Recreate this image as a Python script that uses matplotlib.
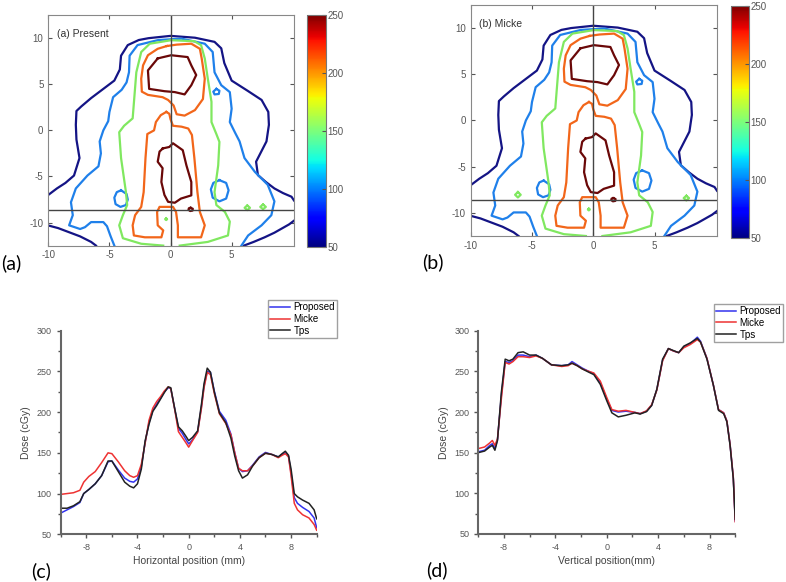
# dose maps (present vs micke) and dose profiles vs TPS

import matplotlib
matplotlib.use("Agg")
import matplotlib.pyplot as plt
from matplotlib import colors
from matplotlib.ticker import MultipleLocator

plt.rcParams["font.family"] = ["Liberation Sans", "DejaVu Sans"]
plt.rcParams["axes.unicode_minus"] = False

# ---- isodose lines (mm), level in cGy ----
navy_main = [(-10.05, -7.05), (-9.3, -6.3), (-8.6, -5.7), (-7.9, -4.9), (-7.45, -3.0),
             (-7.7, -1.0), (-7.75, 0.6), (-7.7, 2.1), (-7.3, 2.6), (-6.5, 3.5), (-5.6, 4.4),
             (-4.6, 5.4), (-4.15, 6.6), (-4.05, 8.1), (-3.5, 9.25), (-2.6, 9.8),
             (-1.8, 10.0), (0.0, 10.25), (2.0, 10.05), (3.6, 9.6), (4.15, 8.9), (4.4, 7.3),
             (5.0, 5.4), (6.3, 4.3), (7.45, 3.3), (8.0, 2.0), (8.05, 0.6),
             (7.85, -1.2), (7.0, -3.4), (7.15, -4.85), (7.8, -5.6), (8.5, -6.3), (9.2, -6.8),
             (9.9, -7.2), (10.1, -7.6)]
navy_bl = [(-10.05, -10.3), (-9.2, -10.6), (-8.4, -11.0), (-7.4, -11.5), (-6.5, -12.1), (-6.1, -12.5)]
navy_br = [(6.0, -12.5), (6.8, -12.1), (7.7, -11.6), (8.5, -11.1), (9.1, -10.65), (9.7, -10.2), (10.1, -9.8)]

blue_main = [(-4.6, -12.5), (-4.9, -11.5), (-5.2, -10.4), (-5.5, -9.95), (-6.5, -9.95), (-7.0, -10.5),
             (-7.4, -10.7), (-8.3, -10.3), (-8.0, -9.2), (-8.15, -7.8), (-7.75, -6.3), (-6.8, -4.9),
             (-5.9, -3.9), (-5.7, -2.5), (-5.8, -1.2), (-5.5, 0.0), (-5.1, 1.0), (-5.0, 2.0),
             (-4.7, 3.6), (-4.0, 4.4), (-3.6, 5.2), (-3.4, 6.3), (-3.35, 8.1), (-2.7, 9.25), (-1.0, 9.8),
             (0.9, 9.95), (2.8, 9.4), (3.45, 8.5), (3.6, 6.3), (4.15, 4.9), (4.85, 4.15),
             (5.0, 2.35), (4.85, 0.9), (5.3, -0.3), (5.65, -1.2), (6.05, -3.0), (6.9, -4.5),
             (7.95, -5.9), (8.5, -7.7), (8.25, -9.2), (7.45, -10.3), (6.35, -11.4), (5.8, -12.5)]
blue_isl_l = [(-4.05, -6.5), (-3.6, -6.9), (-3.5, -7.5), (-3.65, -8.1), (-4.1, -8.3), (-4.5, -8.0),
              (-4.6, -7.3), (-4.4, -6.7), (-4.05, -6.5)]
blue_isl_r = [(4.0, -5.4), (4.55, -5.7), (4.75, -6.5), (4.55, -7.4), (4.0, -7.7), (3.45, -7.3),
              (3.3, -6.4), (3.5, -5.7), (4.0, -5.4)]
blue_isl_top = [(3.75, 4.5), (4.0, 4.3), (3.95, 3.95), (3.6, 3.9), (3.5, 4.2), (3.75, 4.5)]

green_main = [(-0.6, -12.5), (-2.4, -12.3), (-3.9, -11.7), (-4.2, -10.3), (-3.9, -9.2), (-3.55, -8.1),
              (-3.65, -6.7), (-4.05, -3.0), (-4.2, -0.2), (-3.8, 0.5), (-3.1, 1.3), (-2.95, 3.8),
              (-2.8, 6.3), (-2.4, 8.5), (-1.7, 9.4), (0.05, 9.78), (1.95, 9.67), (2.5, 9.24),
              (2.8, 7.8), (3.05, 5.6), (3.35, 3.1), (3.35, 0.9), (3.75, -0.4), (4.0, -1.25),
              (3.9, -3.8), (3.6, -6.7), (3.75, -8.1), (4.45, -8.85), (4.85, -9.9), (4.7, -11.4),
              (3.05, -12.1), (0.75, -12.5)]
green_dot = [(-0.36, -9.55), (-0.28, -9.64), (-0.36, -9.73), (-0.44, -9.64), (-0.36, -9.55)]
green_ring_a1 = [(6.28, -8.15), (6.5, -8.4), (6.28, -8.65), (6.06, -8.4), (6.28, -8.15)]
green_ring_a2 = [(7.57, -8.05), (7.8, -8.3), (7.57, -8.55), (7.34, -8.3), (7.57, -8.05)]
green_ring_b1 = [(-6.15, -7.75), (-5.92, -8.04), (-6.15, -8.33), (-6.38, -8.04), (-6.15, -7.75)]
green_ring_b2 = [(7.6, -8.15), (7.82, -8.4), (7.6, -8.65), (7.38, -8.4), (7.6, -8.15)]

orange_top = [(-0.3, 9.15), (0.5, 9.3), (1.7, 9.4), (2.4, 8.85), (2.55, 7.8), (2.8, 5.6), (2.65, 3.4),
              (2.0, 2.2), (1.15, 1.6), (0.5, 1.75), (0.25, 2.7), (-0.2, 3.3), (-0.65, 3.6),
              (-1.85, 3.85), (-2.35, 4.2), (-2.4, 5.6), (-2.25, 7.05), (-1.85, 8.15), (-1.05, 8.85),
              (-0.3, 9.15)]
orange_low = [(-0.35, 2.0), (-0.8, 1.65), (-1.2, 0.9), (-1.35, 0.0), (-1.9, -0.4), (-2.05, -3.0),
              (-2.2, -6.7), (-2.4, -8.3), (-2.9, -9.2), (-3.1, -10.3), (-3.0, -11.4), (-2.1, -11.6),
              (-0.75, -11.6), (-0.6, -10.85), (-1.05, -10.3), (-1.1, -8.85), (-0.9, -8.3), (0.2, -8.3),
              (0.45, -8.85), (0.6, -10.3), (0.6, -11.6), (2.5, -11.6), (2.8, -10.3), (2.4, -8.85),
              (2.2, -6.7), (1.95, -3.0), (1.75, -0.5), (1.45, 0.2), (0.9, 0.4), (0.2, 0.5),
              (0.0, 1.2), (-0.1, 1.8), (-0.35, 2.0)]

maroon_top = [(-1.05, 7.8), (-1.85, 6.5), (-1.75, 4.5), (-0.5, 4.25), (0.35, 4.15), (1.15, 3.9),
              (1.7, 4.9), (2.1, 6.0), (1.7, 7.05), (1.4, 7.95), (0.05, 8.15), (-0.75, 7.9), (-1.05, 7.8)]
maroon_low = [(-0.63, -1.96), (-0.9, -2.3), (-1.05, -3.4), (-0.65, -4.1), (-0.75, -5.6), (-0.5, -7.0),
              (-0.2, -7.75), (0.35, -7.85), (0.85, -7.4), (1.7, -7.05), (1.7, -5.6), (1.3, -3.8),
              (1.0, -2.15), (0.2, -1.4), (-0.1, -1.8), (-0.63, -1.96)]
maroon_dot = [(1.64, -8.4), (1.82, -8.5), (1.8, -8.7), (1.6, -8.75), (1.47, -8.6), (1.5, -8.45), (1.64, -8.4)]

cross_y = -8.6

# line colour of each isodose level as drawn in the figure
level_colors = {50: "#141485", 100: "#1f80ea", 150: "#80e860", 200: "#f2661a", 250: "#6a0808"}

lines_a = [(navy_main, 50), (navy_bl, 50), (navy_br, 50),
           (blue_main, 100), (blue_isl_l, 100), (blue_isl_r, 100), (blue_isl_top, 100),
           (green_main, 150), (green_dot, 150), (green_ring_a1, 150), (green_ring_a2, 150),
           (orange_top, 200), (orange_low, 200),
           (maroon_top, 250), (maroon_low, 250), (maroon_dot, 250)]
lines_b = [(navy_main, 50), (navy_bl, 50), (navy_br, 50),
           (blue_main, 100), (blue_isl_l, 100), (blue_isl_r, 100), (blue_isl_top, 100),
           (green_main, 150), (green_dot, 150), (green_ring_b1, 150), (green_ring_b2, 150),
           (orange_top, 200), (orange_low, 200),
           (maroon_top, 250), (maroon_low, 250), (maroon_dot, 250)]

# ---- horizontal profile (c) ----
xc = [-10, -9.5, -9, -8.5, -8.2, -7.8, -7.3, -6.8, -6.3, -6.0, -5.5, -5.0, -4.6, -4.3, -4.0, -3.7,
      -3.4, -3.1, -2.8, -2.5, -2.2, -1.9, -1.6, -1.4, -1.1, -0.8, -0.5, -0.2, 0, 0.3, 0.7, 1.0,
      1.2, 1.45, 1.7, 2.0, 2.4, 2.9, 3.3, 3.6, 3.9, 4.2, 4.6, 5.0, 5.5, 6.0, 6.5, 7.0, 7.3, 7.55,
      7.8, 8.0, 8.25, 8.5, 8.9, 9.4, 9.8, 10.0]
c_proposed = [76, 80, 84, 89, 100, 105, 112, 122, 139, 140, 129, 119, 115, 114, 118, 133,
              163, 187, 202, 210, 217, 225, 230, 229, 205, 180, 174, 166, 161, 166, 176, 207,
              232, 250, 249, 226, 201, 190, 173, 150, 131, 127, 128, 135, 145, 150.5, 148, 145, 148, 150,
              146, 125, 95, 88, 83, 78, 70, 58]
c_micke = [99, 100, 101, 104, 114, 121, 127, 138, 150, 149, 139, 128, 122, 120, 122, 136,
           162, 190, 205, 213, 219, 226, 231, 229, 204, 176, 169, 162, 157, 165, 175, 205,
           230, 249, 246, 223, 198, 186, 172, 150, 131, 128, 128, 134, 144, 149.5, 148, 144, 147, 149,
           145, 122, 88, 80, 74, 70, 62, 55]
c_tps = [82, 82, 85, 90, 100, 105, 112, 122, 140, 140, 127, 114, 109, 107, 112, 130,
         165, 185, 201, 208, 216, 224, 231, 230, 205, 182, 177, 170, 165, 169, 177, 210,
         235, 254, 249, 225, 199, 187, 168, 146, 128, 119, 123, 134, 144, 149.5, 148, 145, 149, 152,
         147, 130, 100, 96, 92, 88, 80, 69]

# ---- vertical profile (d) ----
xd = [-10, -9.5, -9.1, -8.9, -8.7, -8.5, -8.2, -7.9, -7.6, -7.3, -6.9, -6.5, -6.0, -5.5, -5.0, -4.3,
      -3.5, -3.0, -2.7, -2.3, -1.9, -1.4, -1.0, -0.5, 0, 0.4, 0.9, 1.5, 2.2, 2.6, 3.1, 3.5, 3.9,
      4.35, 4.8, 5.2, 5.6, 6.0, 6.5, 7.05, 7.3, 7.8, 8.3, 8.7, 9.1, 9.35, 9.6, 9.85, 10.0]
d_proposed = [151, 153, 159, 161, 155, 166, 220, 262, 261, 263, 270, 270, 268, 270, 266, 258,
              257, 258, 262, 258, 254, 250, 247, 236, 216, 202, 200, 201, 199.5, 198, 201, 208.5, 227.5,
              264, 278, 275, 273, 280, 284, 292, 287, 266, 233, 203, 199, 189, 160, 119, 66]
d_micke = [155, 157, 162, 165, 159, 167, 216, 261, 259, 262, 268, 268, 267, 269, 266, 258,
           256, 257, 260, 257, 253, 250, 248, 238, 218, 203, 201, 202, 199.5, 198, 201.5, 209, 227,
           263, 278, 275, 273, 279, 283, 289, 286, 266, 233, 203, 199, 189, 160, 120, 65]
d_tps = [150, 152, 157, 159, 153, 165, 224, 265, 263, 265, 273, 274, 270, 270, 266, 258,
         257, 258, 260, 257, 253, 249, 246, 234, 214, 199, 194, 196, 199, 197.5, 200.5, 208, 228,
         265, 278, 275.5, 273, 281, 285, 290.5, 286, 265, 233, 202, 198, 188, 159, 118, 68]

series_names = ["Proposed", "Micke", "Tps"]
series_colors = ["#3333ee", "#ee3333", "#222222"]

cmap = plt.get_cmap("jet")
norm = colors.Normalize(50, 250)

fig = plt.figure(figsize=(7.86, 5.82), dpi=100)


def draw_map(rect, cbar_rect, lines, title):
    ax = fig.add_axes(rect)
    for pts, level in lines:
        xs = [p[0] for p in pts]
        ys = [p[1] for p in pts]
        ax.plot(xs, ys, color=level_colors[level], lw=1.6, solid_joinstyle="round")
    ax.axvline(0, color="#444444", lw=1.0)
    ax.axhline(cross_y, color="#444444", lw=1.0)
    ax.set_xlim(-10, 10.1)
    ax.set_ylim(-12.5, 12.5)
    ax.set_xticks([-10, -5, 0, 5])
    ax.set_yticks([-10, -5, 0, 5, 10])
    ax.tick_params(direction="in", length=3, labelsize=7, colors="#555555",
                   top=True, right=True)
    for s in ax.spines.values():
        s.set_color("#888888")
    ax.text(-9.3, 10.4, title, fontsize=7.5, color="#333333", va="center")

    cax = fig.add_axes(cbar_rect)
    cb = matplotlib.colorbar.ColorbarBase(cax, cmap=cmap, norm=norm, ticks=[50, 100, 150, 200, 250])
    cb.outline.set_edgecolor("#777777")
    cax.tick_params(direction="in", length=3, labelsize=7, colors="#555555", pad=1)
    return ax


def draw_profile(rect, x, vals, xlabel, legend_anchor):
    ax = fig.add_axes(rect)
    for v, name, c in zip(vals, series_names, series_colors):
        ax.plot(x, v, color=c, lw=1.1, label=name)
    ax.set_xlim(-10, 10)
    ax.set_ylim(50, 300)
    ax.set_xticks([-8, -4, 0, 4, 8])
    ax.set_yticks([50, 100, 150, 200, 250, 300])
    ax.xaxis.set_minor_locator(MultipleLocator(2))
    ax.yaxis.set_minor_locator(MultipleLocator(25))
    for side in ["top", "right"]:
        ax.spines[side].set_visible(False)
    for side in ["left", "bottom"]:
        ax.spines[side].set_color("#666666")
        ax.spines[side].set_linewidth(1.5)
    ax.tick_params(which="major", direction="out", length=3, width=1, labelsize=6.5, colors="#555555")
    ax.tick_params(which="minor", direction="out", length=2, width=1, colors="#555555")
    ax.set_xlabel(xlabel, fontsize=7.5, color="#444444", labelpad=3)
    ax.set_ylabel("Dose (cGy)", fontsize=7.5, color="#444444", labelpad=4)
    fig.legend(*ax.get_legend_handles_labels(), loc="upper right", bbox_to_anchor=legend_anchor,
               fontsize=7, frameon=True, fancybox=False, edgecolor="#888888",
               borderpad=0.2, labelspacing=0.2, handlelength=2.0, handletextpad=0.4,
               borderaxespad=0)
    return ax


draw_map([0.0615, 0.578, 0.3125, 0.396], [0.3906, 0.576, 0.0238, 0.398], lines_a, "(a) Present")
draw_map([0.5989, 0.5945, 0.3133, 0.397], [0.9296, 0.5905, 0.0233, 0.3992], lines_b, "(b) Micke")

draw_profile([0.0772, 0.082, 0.3257, 0.3498], xc, [c_proposed, c_micke, c_tps],
             "Horizontal position (mm)", (0.429, 0.4845))
draw_profile([0.6084, 0.0825, 0.327, 0.3493], xd, [d_proposed, d_micke, d_tps],
             "Vertical position(mm)", (0.996, 0.4777))

letter_font = ["Lato", "DejaVu Sans"]
fig.text(0.002, 0.548, "(a)", fontsize=14, family=letter_font, va="center")
fig.text(0.537, 0.55, "(b)", fontsize=14, family=letter_font, va="center")
fig.text(0.04, 0.018, "(c)", fontsize=14, family=letter_font, va="center")
fig.text(0.542, 0.02, "(d)", fontsize=14, family=letter_font, va="center")

fig.savefig("out.png", dpi=100)
